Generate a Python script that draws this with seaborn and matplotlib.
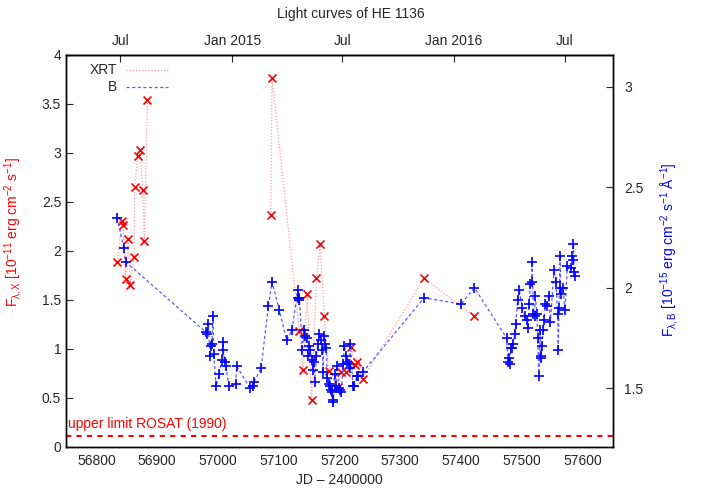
import numpy as np
import pandas as pd
import matplotlib
matplotlib.use("Agg")
import matplotlib.pyplot as plt
import seaborn as sns

# XRT flux (left axis, 10^-11 erg cm^-2 s^-1); seg marks gaps in the line
xrt_jd = [56834, 56842, 56844, 56848, 56852, 56856, 56862, 56863, 56868, 56872,
          56876, 56879, 56884,
          57087, 57089, 57134, 57140, 57147, 57154, 57162, 57168, 57175, 57182,
          57197, 57203, 57210, 57219, 57226, 57229, 57238, 57339, 57422]
xrt_flux = [1.88, 2.30, 2.26, 1.71, 2.12, 1.65, 1.94, 2.65, 2.97, 3.03,
            2.62, 2.10, 3.54,
            2.36, 3.76, 1.18, 0.78, 1.56, 0.48, 1.72, 2.07, 1.33, 0.77,
            0.61, 0.76, 0.76, 1.02, 0.83, 0.86, 0.69, 1.72, 1.33]
xrt_seg = [0] * 13 + [1] * 19

# B band flux (right axis, 10^-15 erg cm^-2 s^-1 A^-1)
b_jd = [56834, 56845, 56848, 56980, 56982, 56984, 56987, 56989, 56990, 56992,
        56993, 56997, 57002, 57006, 57008, 57009, 57011, 57013, 57018, 57029,
        57031, 57053, 57057, 57059, 57071, 57083, 57089, 57101, 57113, 57122,
        57131, 57132, 57133, 57134, 57139, 57142, 57144, 57146, 57148, 57150,
        57152, 57154, 57156, 57158, 57159, 57162, 57164, 57167, 57169, 57172,
        57173, 57174, 57176, 57178, 57180, 57182, 57184, 57186, 57187, 57189,
        57190, 57192, 57194, 57196, 57199, 57201, 57203, 57206, 57208, 57211,
        57213, 57215, 57217, 57218, 57222, 57224, 57229, 57231, 57238, 57339,
        57400, 57422, 57475, 57477, 57479, 57481, 57482, 57484, 57485, 57489,
        57490, 57493, 57496, 57501, 57505, 57508, 57510, 57512, 57514, 57516,
        57517, 57519, 57521, 57522, 57525, 57526, 57528, 57530, 57531, 57532,
        57533, 57535, 57537, 57538, 57541, 57544, 57547, 57553, 57556, 57559,
        57560, 57561, 57562, 57563, 57564, 57568, 57571, 57575, 57581, 57583,
        57584, 57585, 57586, 57588]
b_flux = [2.35, 2.20, 2.13, 1.78, 1.77, 1.82, 1.66, 1.71, 1.72, 1.86,
          1.67, 1.51, 1.57, 1.64, 1.73, 1.69, 1.63, 1.61, 1.51, 1.52,
          1.61, 1.50, 1.51, 1.53, 1.60, 1.91, 2.03, 1.89, 1.74, 1.79,
          1.99, 1.95, 1.94, 1.95, 1.69, 1.79, 1.76, 1.75, 1.66, 1.71,
          1.69, 1.64, 1.59, 1.63, 1.53, 1.66, 1.72, 1.77, 1.74, 1.69,
          1.58, 1.76, 1.72, 1.70, 1.55, 1.52, 1.51, 1.49, 1.48, 1.44,
          1.43, 1.57, 1.51, 1.61, 1.50, 1.49, 1.48, 1.62, 1.71, 1.66,
          1.63, 1.62, 1.60, 1.72, 1.51, 1.51, 1.56, 1.56, 1.58, 1.95,
          1.92, 2.00, 1.75, 1.63, 1.65, 1.62, 1.70, 1.70, 1.72, 1.77,
          1.82, 1.94, 1.99, 1.90, 1.86, 1.84, 1.80, 1.92, 2.02, 2.03,
          2.13, 1.87, 1.86, 1.96, 1.87, 1.75, 1.56, 1.79, 1.65, 1.66,
          1.71, 1.79, 1.84, 1.92, 1.91, 1.96, 1.83, 2.09, 2.03, 1.87,
          1.69, 1.90, 2.00, 2.16, 1.97, 2.00, 1.89, 2.11, 2.10, 2.16,
          2.14, 2.22, 2.08, 2.06]

rosat_limit = 0.11

# top axis: calendar months (JD - 2400000)
month_jd = [56839.5, 57023.5, 57204.5, 57388.5, 57570.5]
month_labels = ["Jul", "Jan 2015", "Jul", "Jan 2016", "Jul"]

xrt = pd.DataFrame({"jd": xrt_jd, "flux": xrt_flux, "seg": xrt_seg})
bband = pd.DataFrame({"jd": b_jd, "flux": b_flux, "seg": 0})

sns.set_style("white")
plt.rcParams["font.family"] = ["Liberation Sans", "DejaVu Sans"]
plt.rcParams["mathtext.fontset"] = "custom"
plt.rcParams["mathtext.rm"] = "Liberation Sans"
plt.rcParams["mathtext.it"] = "Liberation Sans"
plt.rcParams["font.size"] = 10

fig = plt.figure(figsize=(7.01, 4.91), dpi=100)
ax = fig.add_axes([66 / 701, 1 - 446.7 / 491, (613 - 66) / 701, (446.7 - 54.7) / 491])
ax2 = ax.twinx()

# XRT
sns.lineplot(data=xrt, x="jd", y="flux", units="seg", estimator=None, sort=False,
             ax=ax, color="#ff7070", lw=0.9, ls=(0, (1, 1.5)), alpha=0.7)
sns.scatterplot(data=xrt, x="jd", y="flux", ax=ax, marker="x", color="red",
                s=33, linewidth=1.2, zorder=5)

# B band
sns.lineplot(data=bband, x="jd", y="flux", units="seg", estimator=None, sort=False,
             ax=ax2, color="#5a5aff", lw=0.9, ls=(0, (2.5, 2)))
sns.scatterplot(data=bband, x="jd", y="flux", ax=ax2, marker="+", color="blue",
                s=42, linewidth=1.2, zorder=5)

ax.axhline(rosat_limit, color="red", lw=1.5, ls=(0, (2.5, 2.5)))
ax.text(56754, rosat_limit + 0.05, "upper limit ROSAT (1990)", color="red",
        fontsize=10, va="bottom", ha="left")

ax.set_xlim(56750, 57650)
ax.set_ylim(0, 4)
ax2.set_ylim(1.21, 3.16)
ax.set_xticks(np.arange(56800, 57601, 100))
ax.set_yticks(np.arange(0, 4.01, 0.5))
ax.set_yticklabels(["0", "0.5", "1", "1.5", "2", "2.5", "3", "3.5", "4"])
ax2.set_yticks([1.5, 2, 2.5, 3])
ax2.set_yticklabels(["1.5", "2", "2.5", "3"])
ax.set_xlabel("JD – 2400000", fontsize=10, labelpad=4)
ax.set_ylabel("")
ax2.set_ylabel("")

top = ax.secondary_xaxis("top")
top.set_xticks(month_jd)
top.set_xticklabels(month_labels)
top.tick_params(direction="in", length=5, width=0.8, labelsize=10, pad=5)

ax.tick_params(axis="both", direction="in", length=5, width=0.8, labelsize=10,
               top=False, right=False)
ax.tick_params(axis="x", pad=5)
ax2.tick_params(axis="y", direction="in", length=5, width=0.8, labelsize=10, pad=8)
for a in (ax, ax2):
    for sp in a.spines.values():
        sp.set_linewidth(1.0)
        sp.set_color("black")
top.spines["top"].set_linewidth(1.0)

# legend (gnuplot style: text right-aligned, sample to the right)
ax.text(0.094, 0.962, "XRT", transform=ax.transAxes, ha="right", va="center", fontsize=10)
ax.text(0.094, 0.918, "B", transform=ax.transAxes, ha="right", va="center", fontsize=10)
ax.plot([0.11, 0.186], [0.962, 0.962], transform=ax.transAxes, color="#ff7070",
        lw=0.9, ls=(0, (1, 1.5)), alpha=0.7)
ax.plot([0.11, 0.186], [0.918, 0.918], transform=ax.transAxes, color="#5a5aff",
        lw=0.9, ls=(0, (2.5, 2)))

fig.text(0.5, 0.985, "Light curves of HE 1136", ha="center", va="top", fontsize=10)
fig.text(14 / 701, 1 - 232 / 491,
         r"F$_{\lambda,X}$ [10$^{-11}$ erg cm$^{-2}$ s$^{-1}$]",
         rotation=90, color="red", ha="center", va="center", fontsize=10)
fig.text(670 / 701, 1 - 250 / 491,
         r"F$_{\lambda,B}$ [10$^{-15}$ erg cm$^{-2}$ s$^{-1}$ Å$^{-1}$]",
         rotation=90, color="blue", ha="center", va="center", fontsize=10)

fig.savefig("out.png", dpi=100)
